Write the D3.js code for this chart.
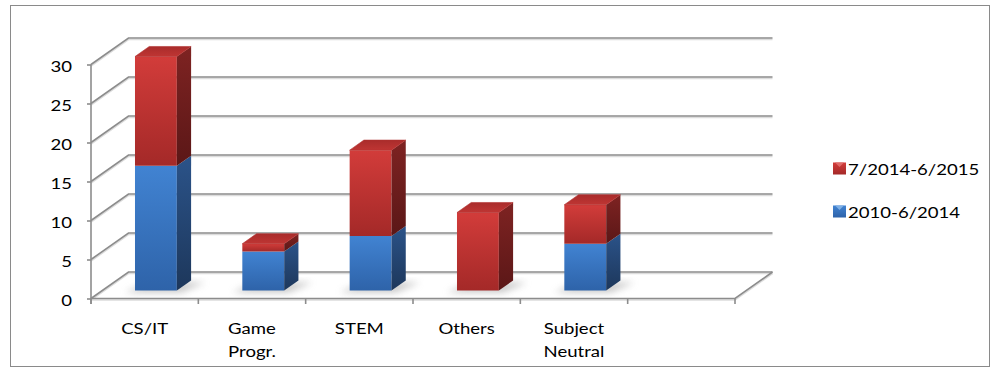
<!DOCTYPE html>
<html><head><meta charset="utf-8">
<script src="https://cdn.jsdelivr.net/npm/d3@7"></script>
<style>
html,body{margin:0;padding:0;background:#fff;}
svg text{font-family:Lato,"Open Sans",sans-serif;fill:#000;}
</style></head>
<body>
<svg id="chart" width="1000" height="375"></svg>
<script>
const categories = ["CS/IT", "Game Progr.", "STEM", "Others", "Subject Neutral", ""];
const seriesNames = ["2010-6/2014", "7/2014-6/2015"];
const values2010 = [16, 5, 7, 0, 6, null];
const values2014 = [14, 1, 11, 10, 5, null];
const yTicks = [0, 5, 10, 15, 20, 25, 30];

const svg = d3.select("#chart");
const SX = 1.16; // horizontal text stretch of reference
const FS = 16;

// frame
svg.append("rect").attr("x",10.5).attr("y",5.5).attr("width",979).attr("height",361)
  .attr("fill","#fff").attr("stroke","#8a8a8a").attr("stroke-width",1);

const DX = 37.5, DY = -26.5;
const y = d3.scaleLinear().domain([0,30]).range([298.5,64.5]);
const x = d3.scaleBand().domain(d3.range(categories.length)).range([91,735]);
const X0 = x.range()[0], X1 = x.range()[1];

const defs = svg.append("defs");
function grad(id, c1, c2){
  const g = defs.append("linearGradient").attr("id",id).attr("x1",0).attr("y1",0).attr("x2",0).attr("y2",1);
  g.append("stop").attr("offset","0%").attr("stop-color",c1);
  g.append("stop").attr("offset","100%").attr("stop-color",c2);
}
grad("redFront","#d23c3a","#a42928");
grad("redSide","#7e2322","#5b1717");
grad("redTop","#a92c2b","#bf3533");
grad("blueFront","#4183d2","#2e63a9");
grad("blueSide","#2b5389","#1d375b");
grad("blueTop","#3a72b8","#4a88d4");
defs.append("filter").attr("id","blur").attr("x","-50%").attr("y","-50%").attr("width","200%").attr("height","200%")
  .append("feGaussianBlur").attr("stdDeviation",3.5);

// gridlines (wall + floor)
const grid = svg.append("g");
function gridPath(t){
  const yy = y(t);
  return `M${X0},${yy}L${X0+DX},${yy+DY}L${X1+DX},${yy+DY}`;
}
grid.selectAll("path.sh").data(yTicks).join("path")
  .attr("d", t => gridPath(t)).attr("transform","translate(0,1.6)")
  .attr("fill","none").attr("stroke","#dcdcdc").attr("stroke-width",1.5);
grid.selectAll("path.gl").data(yTicks).join("path")
  .attr("d", t => gridPath(t))
  .attr("fill","none").attr("stroke","#8c8c8c").attr("stroke-width",1.6);
// floor front and right edges
const floorD = `M${X0},${y(0)}L${X1},${y(0)}L${X1+DX},${y(0)+DY}`;
grid.append("path").attr("d",floorD).attr("transform","translate(0,1.6)")
  .attr("fill","none").attr("stroke","#dcdcdc").attr("stroke-width",1.5);
grid.append("path").attr("d",floorD).attr("fill","none").attr("stroke","#8c8c8c").attr("stroke-width",1.6);

// y axis
const yAxis = svg.append("g").attr("transform",`translate(${X0},0)`)
  .call(d3.axisLeft(y).tickValues(yTicks).tickSize(4).tickPadding(0));
yAxis.select(".domain").remove();
yAxis.append("line").attr("x1",0).attr("x2",0).attr("y1",y(30)).attr("y2",y(0)+5.5)
  .attr("stroke","#8c8c8c").attr("stroke-width",1.6);
yAxis.selectAll(".tick line").attr("stroke","#8c8c8c").attr("stroke-width",1.6);
yAxis.selectAll(".tick text").attr("x",0).attr("dy",0)
  .attr("transform",`translate(-19,7) scale(${SX},1)`)
  .attr("font-size",FS).attr("font-family","Lato").attr("fill","#000");

// category ticks
const xb = d3.range(categories.length).map(i => x(i)).concat([X1]);
svg.append("g").selectAll("line").data(xb).join("line")
  .attr("x1",d=>d).attr("x2",d=>d).attr("y1",y(0)).attr("y2",y(0)+5.5)
  .attr("stroke","#8c8c8c").attr("stroke-width",1.6);

// category labels
const bw = x.bandwidth();
const labG = svg.append("g");
categories.forEach((c,i) => {
  const lines = c ? c.split(" ") : [];
  lines.forEach((ln,j) => {
    labG.append("text")
      .attr("transform",`translate(${x(i)+bw/2},${333.5+j*23.5}) scale(${SX},1)`)
      .attr("text-anchor","middle").attr("font-size",FS).text(ln);
  });
});

// bars
const fF = 0.30, fB = 0.68;
const ox = fF*DX, oy = fF*DY;
const ddx = (fB-fF)*DX, ddy = (fB-fF)*DY;
const barW = bw*0.39;
const barsG = svg.append("g");
categories.forEach((c,i) => {
  const a = values2010[i], b = values2014[i];
  if (a == null && b == null) return;
  const L = x(i) + (bw-barW)/2 + ox, R = L + barW;
  const total = (a||0)+(b||0);
  const yb = y(0)+oy;
  // floor shadow
  barsG.append("path")
    .attr("d",`M${L-10},${yb+2}L${R+4},${yb+2}L${R+ddx+14},${yb+ddy+2}L${L+ddx},${yb+ddy+2}Z`)
    .attr("fill","#9a9a9a").attr("opacity",0.55).attr("filter","url(#blur)");
  const segs = [];
  if (a) segs.push({v0:0, v1:a, col:"blue"});
  if (b) segs.push({v0:a||0, v1:total, col:"red"});
  segs.forEach((s,k) => {
    const y0 = y(s.v0)+oy, y1 = y(s.v1)+oy;
    barsG.append("path").attr("d",`M${L},${y0}L${L},${y1}L${R},${y1}L${R},${y0}Z`)
      .attr("fill",`url(#${s.col}Front)`);
    barsG.append("path").attr("d",`M${R},${y0}L${R},${y1}L${R+ddx},${y1+ddy}L${R+ddx},${y0+ddy}Z`)
      .attr("fill",`url(#${s.col}Side)`);
    if (k === segs.length-1) {
      barsG.append("path").attr("d",`M${L},${y1}L${R},${y1}L${R+ddx},${y1+ddy}L${L+ddx},${y1+ddy}Z`)
        .attr("fill",`url(#${s.col}Top)`).attr("stroke","#b23231").attr("stroke-width",0.6)
        .attr("stroke-linejoin","round");
    }
  });
});

// legend
const legend = [
  {name: seriesNames[1], col:"red", yc:168.5},
  {name: seriesNames[0], col:"blue", yc:211.5}
];
const lg = svg.append("g");
legend.forEach(d => {
  lg.append("rect").attr("x",833).attr("y",d.yc-6).attr("width",13).attr("height",12)
    .attr("fill",`url(#${d.col}Front)`);
  lg.append("path").attr("d",`M835,${d.yc-6}L844,${d.yc-6}L839.5,${d.yc-1.5}Z`)
    .attr("fill",d.col==="red"?"#e06a68":"#7fb0e6");
  lg.append("text").attr("transform",`translate(848,${d.yc+6.3}) scale(${SX},1)`)
    .attr("font-size",FS).text(d.name);
});
</script>
</body></html>
